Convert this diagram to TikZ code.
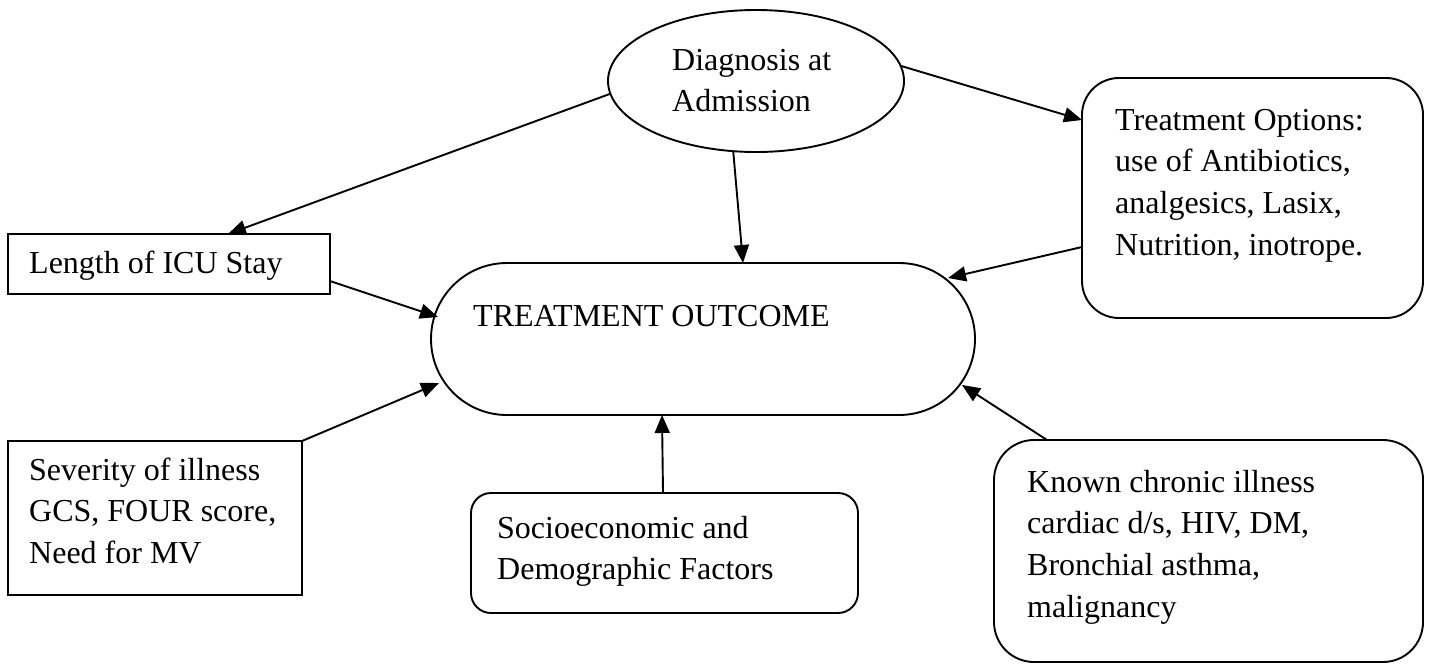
\documentclass[tikz,border=0pt]{standalone}
\usepackage{fontspec}
\setmainfont{Liberation Serif}
\usetikzlibrary{arrows.meta,shapes.geometric,calc}
\begin{document}
\begin{tikzpicture}[x=1pt,y=-1pt,
  shapebox/.style={draw,line width=1.9pt,inner sep=0pt,outer sep=0pt},
  txt/.style={anchor=north west,inner sep=0pt,align=left,
    font={\fontsize{32}{41.7}\selectfont}},
  conn/.style={line width=1.9pt,-{Triangle[length=18pt,width=15pt]}}]
\useasboundingbox (0,0) rectangle (1431,664);
% shapes
\node[shapebox,ellipse,minimum width=296pt,minimum height=142pt] (diag) at (756,81) {};
\node[shapebox,rectangle,rounded corners=37pt,minimum width=341pt,minimum height=240pt] (treat) at (1252.5,198) {};
\node[shapebox,rectangle,minimum width=322pt,minimum height=60pt] (len) at (169,264) {};
\node[shapebox,rectangle,rounded corners=76pt,minimum width=544pt,minimum height=152pt] (out) at (703,339) {};
\node[shapebox,rectangle,minimum width=294pt,minimum height=154pt] (sev) at (155,518) {};
\node[shapebox,rectangle,rounded corners=20pt,minimum width=387pt,minimum height=120pt] (soc) at (664.5,553) {};
\node[shapebox,rectangle,rounded corners=40pt,minimum width=429pt,minimum height=222pt] (known) at (1208.5,551) {};
% texts
\node[txt] (tdiag) at (672,46) {\rule{0pt}{24pt}Diagnosis at\\Admission};
\node[txt] (ttreat) at (1115,106) {\rule{0pt}{24pt}Treatment Options:\\use of Antibiotics,\\analgesics, Lasix,\\Nutrition, inotrope.};
\node[txt] (tlen) at (29,249) {\rule{0pt}{24pt}Length of ICU Stay};
\node[txt] (tout) at (473,302) {\rule{0pt}{24pt}TREATMENT OUTCOME};
\node[txt] (tsev) at (29,456) {\rule{0pt}{24pt}Severity of illness\\GCS, FOUR score,\\Need for MV};
\node[txt] (tsoc) at (497,514) {\rule{0pt}{24pt}Socioeconomic and\\Demographic Factors};
\node[txt] (tknown) at (1027,468) {\rule{0pt}{24pt}Known chronic illness\\cardiac d/s, HIV, DM,\\Bronchial asthma,\\malignancy};
% connectors
\draw[conn] (diag.185) -- ([xshift=59pt]len.north);
\draw[conn] (diag.6) -- ([yshift=78pt]treat.west);
\draw[conn] (diag.252) -- ([xshift=40pt]out.north);
\draw[conn] ([yshift=-17pt]len.east) -- ([xshift=-265pt,yshift=22pt]out.center);
\draw[conn] ([yshift=-49pt]treat.west) -- ([xshift=245pt,yshift=61pt]out.center);
\draw[conn] (sev.north east) -- ([xshift=-264pt,yshift=-44pt]out.center);
\draw[conn] ([xshift=-1.5pt]soc.north) -- ([xshift=-41pt]out.south);
\draw[conn] ([xshift=-161.5pt]known.north) -- ([xshift=259pt,yshift=-46pt]out.center);
\end{tikzpicture}
\end{document}
